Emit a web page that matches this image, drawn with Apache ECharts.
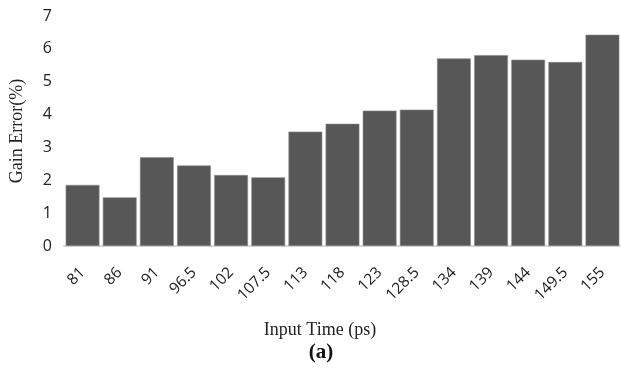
<!DOCTYPE html>
<html>
<head>
<meta charset="utf-8">
<script src="https://cdn.jsdelivr.net/npm/echarts@6/dist/echarts.min.js"></script>
<style>
    html, body {margin: 0; padding: 0; background: #fff;}
    #chart {width: 621px; height: 376px;}
</style>
</head>
<body>
<div id="chart"></div>
<script>
    // data
    var inputTimes = ['81', '86', '91', '96.5', '102', '107.5', '113', '118', '123', '128.5', '134', '139', '144', '149.5', '155'];
    var gainError = [1.86, 1.48, 2.70, 2.45, 2.16, 2.09, 3.48, 3.72, 4.12, 4.15, 5.71, 5.81, 5.67, 5.60, 6.43];
    var yTicks = [0, 7, 1]; // min, max, interval

    var sansFont = '"Open Sans", "Noto Sans", sans-serif';
    var serifFont = '"Liberation Serif", "DejaVu Serif", serif';

    echarts.init(document.getElementById('chart')).setOption({
        animation: false,
        title: [
            {
                text: 'Input Time (ps)',
                left: 315,
                top: 316,
                textAlign: 'center',
                textStyle: {fontFamily: serifFont, fontSize: 18, fontWeight: 'normal', color: '#222'}
            },
            {
                text: '(a)',
                left: 316,
                top: 337,
                textAlign: 'center',
                textStyle: {fontFamily: serifFont, fontSize: 21, fontWeight: 'bold', color: '#111'}
            }
        ],
        grid: {left: 61, right: -6, top: 16, bottom: 130, containLabel: false},
        xAxis: {
            type: 'category',
            data: inputTimes,
            axisLine: {lineStyle: {color: '#d9d9d9', width: 2}},
            axisTick: {show: false},
            axisLabel: {
                rotate: 45,
                margin: 24,
                interval: 0,
                fontFamily: sansFont,
                fontSize: 15.5,
                color: '#222'
            }
        },
        yAxis: {
            type: 'value',
            min: yTicks[0],
            max: yTicks[1],
            interval: yTicks[2],
            name: 'Gain Error(%)',
            nameLocation: 'middle',
            nameGap: 38,
            nameTextStyle: {fontFamily: serifFont, fontSize: 18, color: '#222'},
            axisLine: {show: false},
            axisTick: {show: false},
            splitLine: {show: false},
            axisLabel: {margin: 12, fontFamily: sansFont, fontSize: 16, color: '#222'}
        },
        series: [
            {
                type: 'bar',
                data: gainError,
                barCategoryGap: '9%',
                itemStyle: {color: '#575757', borderColor: '#8a8a8a', borderWidth: 0.6}
            }
        ]
    });
</script>
</body>
</html>
